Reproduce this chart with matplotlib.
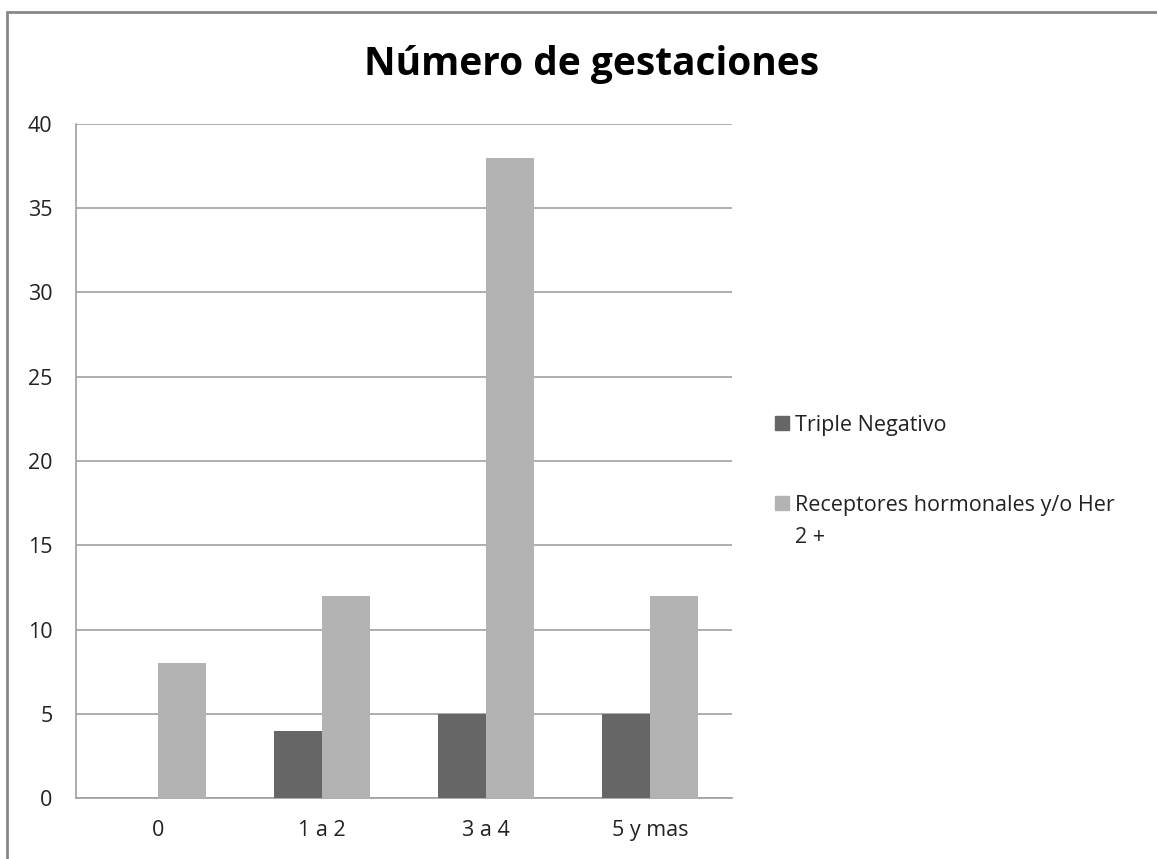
#!/usr/bin/env python3
"""Número de gestaciones — grouped bars, Excel-like style."""
import matplotlib
matplotlib.use("Agg")
import matplotlib.pyplot as plt
from matplotlib.patches import Rectangle
import numpy as np

categories = ["0", "1 a 2", "3 a 4", "5 y mas"]
series_names = ["Triple Negativo", "Receptores hormonales y/o Her\n2 +"]
triple_neg = [0, 4, 5, 5]
receptores = [8, 12, 38, 12]
colors = ["#666666", "#b3b3b3"]

W, H = 1157, 859
plt.rcParams["font.family"] = ["Open Sans", "DejaVu Sans"]

fig = plt.figure(figsize=(W / 100, H / 100), dpi=100)
ax = fig.add_axes([76 / W, (H - 798) / H, 656 / W, 674 / H])

x = np.arange(len(categories))
bw = 0.293
ax.bar(x - bw / 2, triple_neg, bw, color=colors[0], zorder=3)
ax.bar(x + bw / 2, receptores, bw, color=colors[1], zorder=3)

ax.set_xlim(-0.5, len(categories) - 0.5)
ax.set_ylim(0, 40)
ax.set_yticks(range(0, 41, 5))
ax.set_xticks(x, categories)
ax.yaxis.grid(True, color="#a0a0a0", linewidth=1.2, zorder=0)
ax.tick_params(length=0, labelsize=15.5, colors="#222222")
ax.tick_params(axis="y", pad=17)
ax.tick_params(axis="x", pad=16)
for side in ("top", "right"):
    ax.spines[side].set_visible(False)
for side in ("left", "bottom"):
    ax.spines[side].set_color("#a0a0a0")
    ax.spines[side].set_linewidth(1.2)

fig.text(592 / W, 1 - 65 / H, "Número de gestaciones", ha="center", va="center",
         fontsize=28, fontweight="bold", color="black")

# legend drawn by hand so the marker sits on the first text line
for name, col, y in zip(series_names, colors, [423, 503]):
    fig.patches.append(Rectangle((775 / W, 1 - (y + 7) / H), 14 / W, 14 / H,
                                 transform=fig.transFigure, color=col))
    for i, line in enumerate(name.split("\n")):
        fig.text(795 / W, 1 - (y + 32 * i) / H, line, ha="left",
                 va="center_baseline", fontsize=15.5, color="#222222")

# outer chart border
fig.patches.append(Rectangle((7 / W, -0.1), 1.2, 1 - 12 / H + 0.1,
                             transform=fig.transFigure, fill=False,
                             edgecolor="#888888", linewidth=2))

fig.savefig("out.png", dpi=100)
